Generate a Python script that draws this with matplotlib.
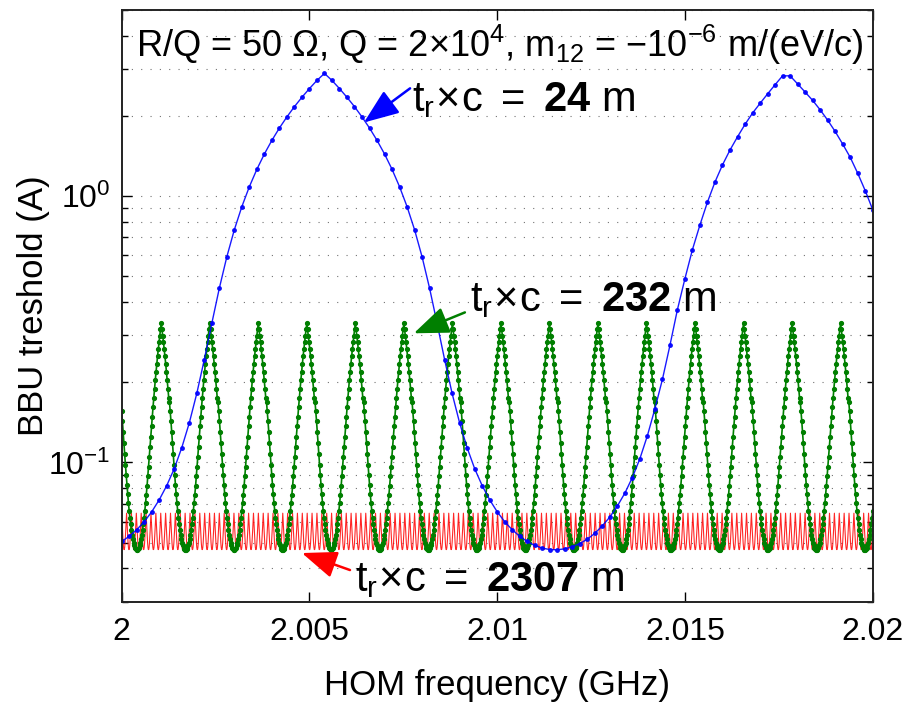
import numpy as np
import matplotlib
matplotlib.use("Agg")
import matplotlib.pyplot as plt
from matplotlib.ticker import LogLocator, NullFormatter

plt.rcParams["font.family"] = ["Liberation Sans", "DejaVu Sans"]
plt.rcParams["mathtext.fontset"] = "custom"
plt.rcParams["mathtext.rm"] = "Liberation Sans"
plt.rcParams["mathtext.it"] = "Liberation Sans:italic"
plt.rcParams["mathtext.bf"] = "Liberation Sans:bold"

# t_r*c = 24 m : threshold at every dot (0.2 MHz steps)
blue_freq = np.linspace(2.0, 2.02, 101)
blue_thr = [
    0.0505, 0.0528, 0.0559, 0.0599, 0.0653, 0.0724, 0.0819, 0.0948, 0.1136, 0.1407,
    0.1816, 0.2433, 0.3328, 0.4509, 0.5917, 0.7478, 0.9132, 1.085, 1.261, 1.440,
    1.620, 1.802, 1.984, 2.168, 2.351, 2.535, 2.720, 2.890,
    2.720, 2.535, 2.351, 2.168, 1.984, 1.802, 1.620, 1.440, 1.261, 1.085,
    0.9132, 0.7478, 0.5917, 0.4509, 0.3328, 0.2433, 0.1816, 0.1407, 0.1136, 0.0948,
    0.0819, 0.0724, 0.0653, 0.0599, 0.0559, 0.0528, 0.0505, 0.0488, 0.0477, 0.0471,
    0.0470, 0.0474, 0.0482, 0.0496, 0.0515, 0.0542, 0.0578, 0.0624, 0.0686, 0.0767,
    0.0878, 0.1033, 0.1260, 0.1590, 0.205, 0.275, 0.375, 0.49,
    0.63, 0.78, 0.95, 1.13, 1.31, 1.49, 1.67, 1.86, 2.05, 2.23, 2.42, 2.62, 2.83,
    2.83, 2.64, 2.46, 2.29, 2.11, 1.93, 1.75, 1.57, 1.40, 1.22, 1.05, 0.89,
]

# t_r*c = 232 m : one period of the pattern (65 dots), it repeats over the range
green_freq = np.linspace(2.0, 2.02, 1007)
green_period = [
    0.1560, 0.1430, 0.1300, 0.1180, 0.1075, 0.0980, 0.0900, 0.0825, 0.0760, 0.0706,
    0.0658, 0.0619, 0.0586, 0.0558, 0.0535, 0.0515, 0.0500, 0.0488, 0.0479, 0.0473,
    0.0470,
    0.0470, 0.0473, 0.0479, 0.0488, 0.0500, 0.0515, 0.0535, 0.0558, 0.0586, 0.0619,
    0.0658, 0.0704, 0.0756, 0.0817, 0.0888, 0.0964, 0.1050, 0.1146, 0.1251, 0.1365,
    0.1486, 0.1614, 0.1749, 0.1891, 0.2037, 0.2188, 0.2343, 0.2500, 0.2662, 0.2825,
    0.2991, 0.3159,
    0.3328, 0.3159, 0.2991, 0.2825, 0.2662, 0.2500, 0.2343, 0.2188, 0.2037, 0.1891,
    0.1749, 0.1690,
]

# t_r*c = 2307 m : one period (13 samples), repeats over the range
red_freq = np.linspace(2.0, 2.02, 2001)
red_period = [0.0645, 0.0604, 0.0562, 0.0526, 0.0499, 0.0480, 0.0471,
              0.0471, 0.0480, 0.0499, 0.0526, 0.0562, 0.0604]

green_thr = np.tile(green_period, len(green_freq) // len(green_period) + 1)[:len(green_freq)]
red_thr = np.tile(red_period, len(red_freq) // len(red_period) + 1)[:len(red_freq)]

x_ticks = [2.0, 2.005, 2.01, 2.015, 2.02]
x_ticklabels = ["2", "2.005", "2.01", "2.015", "2.02"]

fig = plt.figure(figsize=(9.02, 7.05), dpi=100)
ax = fig.add_axes([0.1349, 0.1465, 0.8326, 0.8393])

ax.plot(red_freq, red_thr, color="#ff0000", lw=0.8, alpha=0.85)
ax.plot(green_freq, green_thr, color="#007f00", lw=1.2, marker=".", ms=5.5)
ax.plot(blue_freq, blue_thr, color="#0000ff", lw=1.0, marker=".", ms=5, alpha=0.9)

ax.set_yscale("log")
ax.set_xlim(2.0, 2.02)
ax.set_ylim(0.03, 5)
ax.set_xticks(x_ticks)
ax.set_xticklabels(x_ticklabels)
ax.set_yticks([0.1, 1])
ax.set_yticklabels([r"$10^{-1}$", r"$10^{0}$"])
ax.yaxis.set_minor_locator(LogLocator(base=10, subs=np.arange(2, 10)))
ax.yaxis.set_minor_formatter(NullFormatter())

ax.tick_params(which="both", direction="in", top=True, right=True, labelsize=23, width=1)
ax.tick_params(which="major", length=7)
ax.tick_params(which="minor", length=4)
ax.tick_params(axis="x", pad=11)
ax.tick_params(axis="y", pad=8)
for s in ax.spines.values():
    s.set_linewidth(1.4)
    s.set_color("#222222")

ax.yaxis.grid(True, which="both", linestyle=(0, (1, 7.4)), color="0.45", lw=0.8)
ax.set_axisbelow(True)

ax.set_xlabel("HOM frequency (GHz)", fontsize=25, labelpad=16)
ax.set_ylabel("BBU treshold (A)", fontsize=25, labelpad=-1)

ax.text(0.503, 0.941, r"R/Q = 50 $\Omega$, Q = 2$\times$10$^4$, m$_{12}$ = $-$10$^{-6}$ m/(eV/c)",
        transform=ax.transAxes, ha="center", va="center", fontsize=26)

arrow = dict(arrowstyle="-|>,head_length=0.9,head_width=0.35", mutation_scale=24,
             lw=1.8, shrinkA=0, shrinkB=0)

ax.text(2.00773, 2.29, r"$\mathregular{t_r\!\times\! c\ =\ }\mathbf{24}\mathregular{\ m}$",
        ha="left", va="center", fontsize=30)
ax.annotate("", xy=(2.00645, 1.89), xytext=(2.00768, 2.54),
            arrowprops=dict(arrow, color="#0000ff"))

ax.text(2.00928, 0.406, r"$\mathregular{t_r\!\times\! c\ =\ }\mathbf{232}\mathregular{\ m}$",
        ha="left", va="center", fontsize=30)
ax.annotate("", xy=(2.00778, 0.3055), xytext=(2.00914, 0.366),
            arrowprops=dict(arrow, color="#007f00"))

ax.text(2.00621, 0.0362, r"$\mathregular{t_r\!\times\! c\ =\ }\mathbf{2307}\mathregular{\ m}$",
        ha="left", va="center", fontsize=30)
ax.annotate("", xy=(2.0048, 0.0457), xytext=(2.00608, 0.03945),
            arrowprops=dict(arrow, color="#ff0000"))

fig.savefig("out.png", dpi=100)
